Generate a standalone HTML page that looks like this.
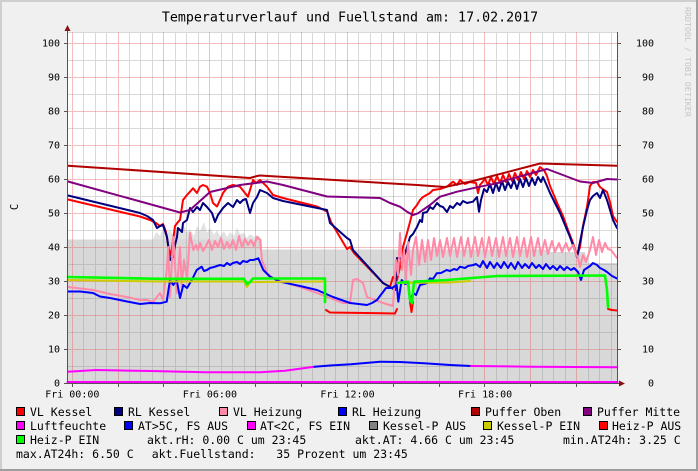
<!DOCTYPE html>
<html><head><meta charset="utf-8"><style>
html,body{margin:0;padding:0;background:#f0f0f0;}
svg{display:block;}
text{font-family:"DejaVu Sans Mono","Liberation Mono",monospace;fill:#000;}
</style></head><body>
<svg width="698" height="471" viewBox="0 0 698 471" xmlns="http://www.w3.org/2000/svg">
<rect x="0" y="0" width="698" height="471" fill="#f0f0f0"/>
<rect x="0" y="0" width="698" height="2" fill="#cfcfcf"/>
<rect x="0" y="0" width="2" height="471" fill="#cfcfcf"/>
<rect x="0" y="469" width="698" height="2" fill="#9e9e9e"/>
<rect x="696" y="0" width="2" height="471" fill="#9e9e9e"/>

<text x="350" y="21.3" font-size="13.3" text-anchor="middle">Temperaturverlauf und Fuellstand am: 17.02.2017</text>
<text transform="translate(685,7) rotate(90)" font-size="8.3" style="fill:#c4c4c4">RRDTOOL / TOBI OETIKER</text>

<rect x="68" y="32" width="550" height="351" fill="#ffffff"/>

<polygon fill="#d8d8d8" points="68,383 68,239.5 262,239.5 262,249.5 545,249.5 548,252 585,252 588,263 617.5,263 617.5,383"/>
<polygon fill="#e2e2e2" points="153,239.5 156,232 160,236 163,228 167,234 170,230 173,236 176,226 180,233 183,224 187,232 190,229 194,236 197,226 200,231 204,222 207,233 210,228 214,235 217,230 220,236 224,231 227,237 230,232 234,236 237,228 240,234 244,233 247,238 250,234 254,237 258,235 262,239.5"/>

<path fill="none" stroke="rgba(128,128,128,0.3)" stroke-width="1" d="M83.5,32V383M95.5,32V383M106.5,32V383M129.5,32V383M140.5,32V383M152.5,32V383M175.5,32V383M186.5,32V383M198.5,32V383M221.5,32V383M232.5,32V383M244.5,32V383M267.5,32V383M278.5,32V383M290.5,32V383M312.5,32V383M324.5,32V383M335.5,32V383M358.5,32V383M370.5,32V383M381.5,32V383M404.5,32V383M416.5,32V383M427.5,32V383M450.5,32V383M462.5,32V383M473.5,32V383M496.5,32V383M507.5,32V383M519.5,32V383M542.5,32V383M553.5,32V383M565.5,32V383M588.5,32V383M599.5,32V383M611.5,32V383M68,60.5H617M68,94.5H617M68,128.5H617M68,162.5H617M68,196.5H617M68,230.5H617M68,264.5H617M68,298.5H617M68,332.5H617M68,366.5H617M68,32.5H617"/>
<path fill="none" stroke="rgba(230,100,100,0.42)" stroke-width="1" d="M72.5,32V383M118.5,32V383M163.5,32V383M209.5,32V383M255.5,32V383M301.5,32V383M347.5,32V383M393.5,32V383M439.5,32V383M484.5,32V383M530.5,32V383M576.5,32V383M68,43.5H617M68,77.5H617M68,111.5H617M68,145.5H617M68,179.5H617M68,213.5H617M68,247.5H617M68,281.5H617M68,315.5H617M68,349.5H617"/>

<g fill="none" stroke-width="2" stroke-linejoin="round" stroke-linecap="round">
<!-- VL Kessel -->
<polyline stroke="#ff0000" points="68,199.5 140,216.5 150,220 156,223 160,226 163,224 166,232 170,256 172,248 175,226 178,222 180,220 183,200 187,195 190,191.7 193,188.3 197,193 200,186.7 203,185 207,186.7 210,193 213,203 217,206.5 220,200 223,193 228,186.7 233,185 240,186.7 245,193 248,196.7 253,180 256,183 260,180 267,186.7 273,195 283,198 317,206.5 327,211.5 331,222 347,249 350,247 354,253 383,283 390,287 393,277 397,280 400,267 403,247 407,233 410,222 413,210 417,205 420,200 423,197 430,193 433,190 440,189 447,186.7 453,181.7 457,185 460,180 465,184 470,182 476,183 478,193 480,185 485,179 488,185 491,177 494,184 497,176 500,183 503,175 506,182 509,174 512,181 515,173 518,180 521,172 524,179 527,171 530,177 533,170 536,175 540,167 544,170 547,176 550,186 553,193 558,205 563,216 568,230 573,243 577,256 580,247 583,226 587,207 590,186 593,182 597,182 600,187 604,190 607,192 610,202 613,216 617,222"/>
<!-- RL Kessel -->
<polyline stroke="#000080" points="68,195.5 140,213 147,216 153,220 157,228 160,226 163,225 167,237 170,260 173,257 175,245 177,237 178,228 182,232 183,223 187,220 190,208 193,212 197,207 200,210 203,203 207,207 212,213 215,222 218,215 223,208 228,203 233,207 237,200 240,203 243,200 246,199 250,213 253,203 257,197 260,190 267,193 273,198 283,201 327,210 330,223 347,238 350,240 353,250 383,283 390,287 395,290 397,258 400,258 403,260 407,247 410,237 413,234 417,227 420,220 422,222 423,213 427,212 430,207 433,209 437,203 440,206 443,207 447,212 450,206 453,208 457,203 460,205 463,201 467,203 473,201.7 477,197 479,211.7 481,200 484,189 487,192 490,184 493,193 496,183 499,191 502,181 505,190 508,182 511,188 514,180 517,189 520,179 523,187 526,178 529,186 532,178 535,185 538,177 541,182 543,177 547,186 550,193 555,203 560,213 565,225 570,237 574,248 577,257 580,242 583,227 587,210 590,200 593,196 597,193 600,198 603,190 607,200 610,210 613,220 617,228"/>
<!-- VL Heizung -->
<polyline stroke="#ff8aa8" points="68,287 93,290 110,294 127,297 140,300 147,300 153,302 160,293 163,300 166.7,270 168.3,247 170,297 173.3,237 176.7,293 180,247 181.7,287 184,260 187,280 190,233 193.3,250 196,245 198,250 200,243 203,251 206,246 209,240 212,250 215,241 218,247 221,238 224,249 227,242 230,248 233,240 236,250 239,236 242,247 245,239 248,245 251,240 254,246 257,237 260,240 262,260 267,273 273,278 277,280 300,287 317,293 327,297 343,303 350,303 353,280 357,279 363,283 367,297 383,303 393,306 396,260 398,275 400,233 402,270 404,250 406,280 408,242 411,275 413,250 416,237 419,265 422,240 425,262 428,240 431,260 434,238 437,256 440,240 443,257 447,238 450,256 454,238 457,257 461,237 464,256 468,238 471,257 475,237 478,256 482,238 485,257 489,237 492,256 496,238 499,257 503,237 506,256 510,238 513,257 517,237 520,256 524,238 527,257 531,237 534,256 538,238 541,255 545,240 548,254 552,241 555,252 559,243 562,252 566,243 569,251 573,245 576,254 578,258 580,267 583,255 586,262 590,250 593,237 596,255 599,240 602,252 605,243 608,249 611,250 614,254 617,258"/>
<!-- RL Heizung -->
<polyline stroke="#0000ff" points="68,291.5 80,291.5 93,293 100,296.5 110,298 127,301.5 140,304 150,303 160,303.3 166.7,301.7 170,280 173.3,285 176.7,280 180,298 183.3,285 187,288 190,283 193.3,277 196.7,270 201.7,266.7 204,271 207,270 210,268 214,267 217,266 220,265 224,266 227,263 230,265 233,263 237,262 240,264 243,261 247,262 250,260 253.3,260 258.3,258.3 263.3,270 270,276.7 280,281.7 300,286 317,290 333,297 350,303 367,305 372,303 377,300 386,288 392,288 396.7,285 398.3,301.7 401.7,280 405,284 408,283 410,300 413.3,293 416,295 420,285 424,284 427,283 430,278.3 433,279 436.7,273.3 441,273 446.7,270 450,271 454,269 457,270 460,266.7 465,268 468,266 473.3,265 476,264 480,267 483,261 487,268 490,262 494,268 497,263 501,268 504,262 508,268 511,263 515,269 518,262 522,268 525,264 529,268 532,263 536,268 539,265 543,269 546,264 550,269 553,266 557,270 560,266 564,270 567,267 571,270 574,268 578,272 581,280 584,270 587,268 590,266 593,263 597,265 600,268 604,270 607,272 612,276 617,278.5"/>
<!-- Puffer Oben -->
<polyline stroke="#b00000" points="68,165.7 250,178 257,176 260,175.5 417,185 445,187 473,181 540,163.5 617,165.7"/>
<!-- Puffer Mitte -->
<polyline stroke="#800080" points="68,181.5 180,212.5 190,210 210,192 240,185 267,181.5 283,185 327,196.5 380,198 390,203 400,206.7 407,211.7 413,215 418,213.3 430,205 440,196.7 457,191.7 480,186.7 497,183.3 507,180 547,169 580,181.5 593,183 607,179 617,179.5"/>
<!-- Luftfeuchte -->
<polyline stroke="#ff00ff" stroke-width="3" points="68,382.5 617,382.5"/>
<!-- AT -->
<polyline stroke="#ff00ff" points="68,371.7 96,370 151,371 205,372.3 260,372.3 285,370.7 305,368 314.5,366.7"/>
<polyline stroke="#0000ff" points="314.5,366.7 330,365.5 351,364.3 380,361.7 400,362 424,363.3 450,365 471,366"/>
<polyline stroke="#ff00ff" points="471,366 533,366.7 617,367.3"/>
<!-- Kessel-P EIN -->
<polyline stroke="#cccc00" points="68,280 160,281.5 244,281.5 247,287 250,282 325,281.5"/>
<polyline stroke="#cccc00" points="398,283 450,282.5 470,281"/>
<!-- Heiz-P AUS -->
<polyline stroke="#ff0000" points="326,310 330,312.5 395,313.5 397,309"/>
<polyline stroke="#ff0000" points="410,302 411.5,312 413,302"/>
<polyline stroke="#ff0000" points="608,309 612,310 617,310.5"/>
<!-- Heiz-P EIN -->
<polyline stroke="#00ff00" stroke-width="2.6" points="68,277 160,278.8 244,278.8 247,284 250,282 253,278.5 325,278.5 325,302"/>
<polyline stroke="#00ff00" stroke-width="2.6" points="398,283 408,281.7 410,300 412,303 414,281.7 447,280 497,276 605,275.5 607,290 608,307"/>
</g>

<path fill="none" stroke="#555" stroke-width="1" d="M67.5,28V383.5M64,383.5H621M617.5,32V383.5"/>
<path fill="none" stroke="#555" stroke-width="1" d="M64,43.5H67M64,77.5H67M64,111.5H67M64,145.5H67M64,179.5H67M64,213.5H67M64,247.5H67M64,281.5H67M64,315.5H67M64,349.5H67M618,43.5H621M618,77.5H621M618,111.5H621M618,145.5H621M618,179.5H621M618,213.5H621M618,247.5H621M618,281.5H621M618,315.5H621M618,349.5H621M72.5,384V387M118.5,384V387M163.5,384V387M209.5,384V387M255.5,384V387M301.5,384V387M347.5,384V387M393.5,384V387M439.5,384V387M484.5,384V387M530.5,384V387M576.5,384V387"/>
<polygon fill="#8b1010" points="64.5,31 67.5,25 70.5,31"/>
<polygon fill="#8b1010" points="619,380.5 625,383.5 619,386.5"/>

<g font-size="10" text-anchor="end">
<text x="60" y="46.7">100</text>
<text x="60" y="80.7">90</text>
<text x="60" y="114.7">80</text>
<text x="60" y="148.7">70</text>
<text x="60" y="182.7">60</text>
<text x="60" y="216.7">50</text>
<text x="60" y="250.7">40</text>
<text x="60" y="284.7">30</text>
<text x="60" y="318.7">20</text>
<text x="60" y="352.7">10</text>
<text x="60" y="386.7">0</text>
</g>
<g font-size="10" text-anchor="end">
<text x="654" y="46.7">100</text>
<text x="654" y="80.7">90</text>
<text x="654" y="114.7">80</text>
<text x="654" y="148.7">70</text>
<text x="654" y="182.7">60</text>
<text x="654" y="216.7">50</text>
<text x="654" y="250.7">40</text>
<text x="654" y="284.7">30</text>
<text x="654" y="318.7">20</text>
<text x="654" y="352.7">10</text>
<text x="654" y="386.7">0</text>
</g>
<g font-size="10" text-anchor="middle">
<text x="72.3" y="397.3">Fri 00:00</text>
<text x="209.9" y="397.3">Fri 06:00</text>
<text x="347.5" y="397.3">Fri 12:00</text>
<text x="485.1" y="397.3">Fri 18:00</text>
</g>
<text transform="translate(18,207) rotate(-90)" font-size="10.5" text-anchor="middle">C</text>

<g stroke="#000" stroke-width="1">
<rect x="16.5" y="407.5" width="8" height="8" fill="#ff0000"/>
<rect x="114.5" y="407.5" width="8" height="8" fill="#000080"/>
<rect x="219.5" y="407.5" width="8" height="8" fill="#ff8aa8"/>
<rect x="338.5" y="407.5" width="8" height="8" fill="#0000ff"/>
<rect x="471.5" y="407.5" width="8" height="8" fill="#b00000"/>
<rect x="583.5" y="407.5" width="8" height="8" fill="#800080"/>
<rect x="16.5" y="421.5" width="8" height="8" fill="#ff00ff"/>
<rect x="124.5" y="421.5" width="8" height="8" fill="#0000ff"/>
<rect x="247.5" y="421.5" width="8" height="8" fill="#ff00ff"/>
<rect x="369.5" y="421.5" width="8" height="8" fill="#808080"/>
<rect x="483.5" y="421.5" width="8" height="8" fill="#cccc00"/>
<rect x="599.5" y="421.5" width="8" height="8" fill="#ff0000"/>
<rect x="16.5" y="435.5" width="8" height="8" fill="#00ff00"/>
</g>
<g font-size="11.5" style="white-space:pre">
<text x="30" y="416">VL Kessel</text>
<text x="128" y="416">RL Kessel</text>
<text x="233" y="416">VL Heizung</text>
<text x="352" y="416">RL Heizung</text>
<text x="485" y="416">Puffer Oben</text>
<text x="597" y="416">Puffer Mitte</text>
<text x="30" y="430">Luftfeuchte</text>
<text x="138" y="430">AT&gt;5C, FS AUS</text>
<text x="260" y="430">AT&lt;2C, FS EIN</text>
<text x="383" y="430">Kessel-P AUS</text>
<text x="497" y="430">Kessel-P EIN</text>
<text x="612" y="430">Heiz-P AUS</text>
<text x="30" y="444">Heiz-P EIN</text>
<text x="147" y="444">akt.rH: 0.00 C um 23:45</text>
<text x="355" y="444">akt.AT: 4.66 C um 23:45</text>
<text x="563" y="444">min.AT24h: 3.25 C</text>
<text x="16" y="458">max.AT24h: 6.50 C</text>
<text x="151.7" y="458" xml:space="preserve">akt.Fuellstand:   35 Prozent um 23:45</text>
</g>
</svg>
</body></html>
